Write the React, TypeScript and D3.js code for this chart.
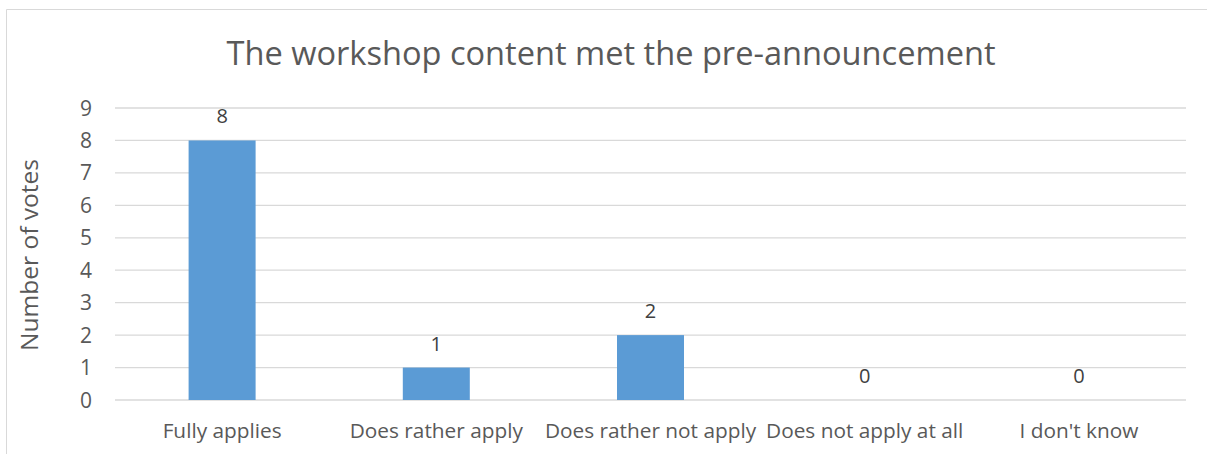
import React from "react";
import * as d3 from "d3";

const categories = ["Fully applies", "Does rather apply", "Does rather not apply", "Does not apply at all", "I don't know"];
const votes = [8, 1, 2, 0, 0];
const yTicks = [0, 1, 2, 3, 4, 5, 6, 7, 8, 9];
const title = "The workshop content met the pre-announcement";
const yTitle = "Number of votes";

const W = 1207;
const H = 454;
const FONT = "'Open Sans', sans-serif";

export default function App() {
  const x = d3.scaleBand<string>().domain(categories).range([115, 1186]).paddingInner(0.687).paddingOuter(0.3435);
  const y = d3.scaleLinear().domain([0, 9]).range([400, 108]);
  const bw = 67;
  return (
    <svg width={W} height={H} style={{ position: "absolute", left: 0, top: 0 }}>
      <rect x={0} y={0} width={W} height={H} fill="#fff" />
      <path d={`M6.5,${H + 5} L6.5,9.5 L${W + 5},9.5`} fill="none" stroke="#d9d9d9" strokeWidth={1} />
      <text x={611} y={65} textAnchor="middle" fontFamily={FONT} fontSize={32.6} fill="#595959">{title}</text>
      {yTicks.map((t) => (
        <g key={t}>
          <line x1={115} x2={1186} y1={y(t)} y2={y(t)} stroke="#d9d9d9" strokeWidth={1.3} />
          <text x={92} y={y(t) + 7.5} textAnchor="end" fontFamily={FONT} fontSize={21} fill="#595959">{t}</text>
        </g>
      ))}
      {categories.map((c, i) => {
        const cx = (x(c) as number) + x.bandwidth() / 2;
        return (
          <g key={c}>
            {votes[i] > 0 && (
              <rect x={cx - bw / 2} y={y(votes[i])} width={bw} height={y(0) - y(votes[i])} fill="#5b9bd5" />
            )}
            <text x={cx} y={y(votes[i]) - 17} textAnchor="middle" fontFamily={FONT} fontSize={20} fill="#404040">{votes[i]}</text>
            <text x={cx} y={438} textAnchor="middle" fontFamily={FONT} fontSize={20.8} fill="#595959">{c}</text>
          </g>
        );
      })}
      <text transform={`translate(38,255) rotate(-90)`} textAnchor="middle" fontFamily={FONT} fontSize={24.5} fill="#595959">{yTitle}</text>
    </svg>
  );
}
